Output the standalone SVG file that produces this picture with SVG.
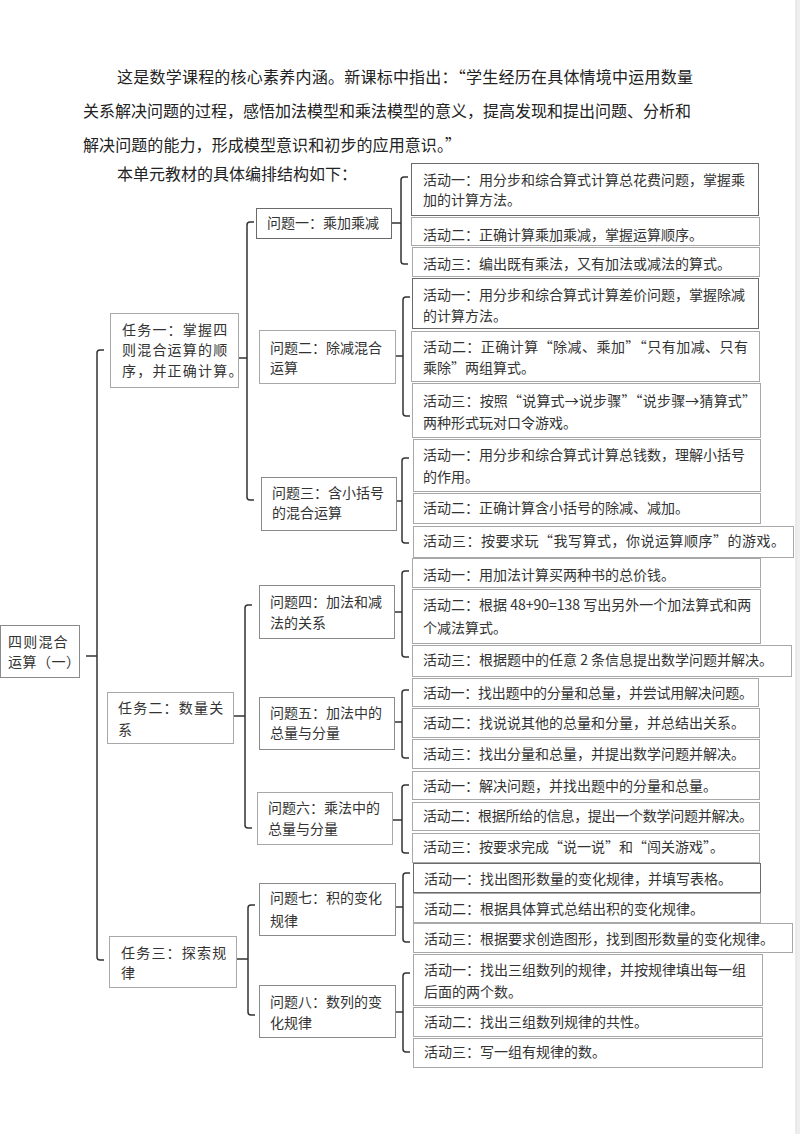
<svg xmlns="http://www.w3.org/2000/svg" width="800" height="1134" viewBox="0 0 800 1134">
<style>
.bx{fill:none;stroke:#a8a8a8;stroke-width:1}
.bd{fill:none;stroke:#6a6a6a;stroke-width:1}
.bq{fill:none;stroke:#8a8a8a;stroke-width:1}
.t{font-family:"Noto Sans CJK SC","Liberation Serif",sans-serif;font-size:14px;fill:#333}
.p{font-size:16px;fill:#222}
.ls{letter-spacing:1.2px}
.br{fill:none;stroke:#333;stroke-width:1.5}
</style>
<rect width="800" height="1134" fill="#fff"/>
<line x1="796" y1="0" x2="796" y2="1134" stroke="#d4d4d4"/>
<rect x="797" y="0" width="3" height="1134" fill="#eeeeee"/>

<g id="intro">
<text class="t p" x="117" y="83" textLength="576">这是数学课程的核心素养内涵。新课标中指出：“学生经历在具体情境中运用数量</text>
<text class="t p" x="83" y="117" textLength="608">关系解决问题的过程，感悟加法模型和乘法模型的意义，提高发现和提出问题、分析和</text>
<text class="t p" x="83" y="151" textLength="378">解决问题的能力，形成模型意识和初步的应用意识。”</text>
<text class="t p" x="117" y="180">本单元教材的具体编排结构如下：</text>
</g>

<g id="connectors">
<path class="br" d="M104 350H100Q97 350 97 353V957Q97 960 100 960H104M86 656H97"/>
<path class="br" d="M254 222H250Q247 222 247 225V497Q247 500 250 500H254M238 358H247"/>
<path class="br" d="M252 605H248Q245 605 245 608V825Q245 828 248 828H252M233 716H245"/>
<path class="br" d="M255 905H251Q248 905 248 908V1012Q248 1015 251 1015H255M236 959H248"/>
<path class="br" d="M408 177H404Q401 177 401 180V261Q401 264 404 264H408M391 223H401"/>
<path class="br" d="M410 297H406Q403 297 403 300V413Q403 416 406 416H410M395 356H403"/>
<path class="br" d="M409 458H405Q402 458 402 461V540Q402 543 405 543H409M396 501H402"/>
<path class="br" d="M409 571H405Q402 571 402 574V654Q402 657 405 657H409M394 612H402"/>
<path class="br" d="M409 690H405Q402 690 402 693V755Q402 758 405 758H409M394 722H402"/>
<path class="br" d="M409 785H405Q402 785 402 788V850Q402 853 405 853H409M392 820H402"/>
<path class="br" d="M410 873H406Q403 873 403 876V939Q403 942 406 942H410M395 907H403"/>
<path class="br" d="M410 973H406Q403 973 403 976V1049Q403 1052 406 1052H410M395 1012H403"/>
</g>

<g id="root">
<rect class="bq" x="0.5" y="625.5" width="79" height="52"/>
<text class="t ls" x="8" y="647">四则混合</text>
<text class="t" x="8" y="667" letter-spacing="0.5">运算（一）</text>
</g>

<g id="task1">
<rect class="bx" x="110.5" y="313.5" width="128" height="74"/>
<text class="t ls" x="122" y="335">任务一：掌握四</text>
<text class="t ls" x="122" y="355">则混合运算的顺</text>
<text class="t ls" x="122" y="376">序，并正确计算。</text>
</g>
<g id="task2">
<rect class="bx" x="107.5" y="692.5" width="126" height="51"/>
<text class="t ls" x="118" y="713">任务二：数量关</text>
<text class="t ls" x="118" y="735">系</text>
</g>
<g id="task3">
<rect class="bx" x="109.5" y="936.5" width="127" height="51"/>
<text class="t ls" x="121" y="958">任务三：探索规</text>
<text class="t ls" x="121" y="978">律</text>
</g>

<g id="q1">
<rect class="bd" x="256.5" y="208.5" width="135" height="30"/>
<text class="t" x="267" y="228">问题一：乘加乘减</text>
</g>
<g id="q2">
<rect class="bx" x="259.5" y="330.5" width="136" height="53"/>
<text class="t" x="270" y="353">问题二：除减混合</text>
<text class="t" x="270" y="373">运算</text>
</g>
<g id="q3">
<rect class="bq" x="261.5" y="477.5" width="135" height="53"/>
<text class="t" x="272" y="498">问题三：含小括号</text>
<text class="t" x="272" y="518">的混合运算</text>
</g>
<g id="q4">
<rect class="bq" x="259.5" y="585.5" width="135" height="53"/>
<text class="t" x="270" y="607">问题四：加法和减</text>
<text class="t" x="270" y="628">法的关系</text>
</g>
<g id="q5">
<rect class="bq" x="259.5" y="697.5" width="135" height="52"/>
<text class="t" x="270" y="718">问题五：加法中的</text>
<text class="t" x="270" y="738">总量与分量</text>
</g>
<g id="q6">
<rect class="bx" x="257.5" y="792.5" width="135" height="52"/>
<text class="t" x="268" y="813">问题六：乘法中的</text>
<text class="t" x="268" y="834">总量与分量</text>
</g>
<g id="q7">
<rect class="bq" x="259.5" y="883.5" width="136" height="52"/>
<text class="t" x="270" y="903">问题七：积的变化</text>
<text class="t" x="270" y="926">规律</text>
</g>
<g id="q8">
<rect class="bq" x="259.5" y="985.5" width="136" height="52"/>
<text class="t" x="270" y="1007">问题八：数列的变</text>
<text class="t" x="270" y="1028">化规律</text>
</g>

<g id="q1a1"><rect class="bd" x="411.5" y="163.5" width="347" height="52"/>
<text class="t" x="423" y="185">活动一：用分步和综合算式计算总花费问题，掌握乘</text>
<text class="t" x="423" y="205">加的计算方法。</text></g>
<g id="q1a2"><rect class="bx" x="411.5" y="217.5" width="348" height="28"/>
<text class="t" x="423" y="240">活动二：正确计算乘加乘减，掌握运算顺序。</text></g>
<g id="q1a3"><rect class="bx" x="412.5" y="247.5" width="347" height="29"/>
<text class="t" x="423" y="269">活动三：编出既有乘法，又有加法或减法的算式。</text></g>

<g id="q2a1"><rect class="bd" x="412.5" y="278.5" width="346" height="50"/>
<text class="t" x="423" y="300">活动一：用分步和综合算式计算差价问题，掌握除减</text>
<text class="t" x="423" y="321">的计算方法。</text></g>
<g id="q2a2"><rect class="bx" x="411.5" y="331.5" width="348" height="50"/>
<text class="t" x="423" y="352" textLength="325">活动二：正确计算“除减、乘加”“只有加减、只有</text>
<text class="t" x="423" y="373">乘除”两组算式。</text></g>
<g id="q2a3"><rect class="bx" x="412.5" y="383.5" width="348" height="54"/>
<text class="t" x="423" y="406" textLength="333">活动三：按照“说算式→说步骤”“说步骤→猜算式”</text>
<text class="t" x="423" y="428">两种形式玩对口令游戏。</text></g>

<g id="q3a1"><rect class="bx" x="413.5" y="439.5" width="347" height="52"/>
<text class="t" x="423" y="460">活动一：用分步和综合算式计算总钱数，理解小括号</text>
<text class="t" x="423" y="482">的作用。</text></g>
<g id="q3a2"><rect class="bx" x="413.5" y="493.5" width="347" height="30"/>
<text class="t" x="423" y="513">活动二：正确计算含小括号的除减、减加。</text></g>
<g id="q3a3"><rect class="bx" x="413.5" y="526.5" width="380" height="31"/>
<text class="t" x="423" y="546" textLength="362">活动三：按要求玩“我写算式，你说运算顺序”的游戏。</text></g>

<g id="q4a1"><rect class="bx" x="412.5" y="558.5" width="348" height="29"/>
<text class="t" x="423" y="580">活动一：用加法计算买两种书的总价钱。</text></g>
<g id="q4a2"><rect class="bx" x="412.5" y="589.5" width="348" height="54"/>
<text class="t" x="423" y="610">活动二：根据 48+90=138 写出另外一个加法算式和两</text>
<text class="t" x="423" y="633">个减法算式。</text></g>
<g id="q4a3"><rect class="bx" x="412.5" y="645.5" width="379" height="31"/>
<text class="t" x="423" y="665">活动三：根据题中的任意 2 条信息提出数学问题并解决。</text></g>

<g id="q5a1"><rect class="bx" x="412.5" y="678.5" width="346" height="28"/>
<text class="t" x="423" y="698" textLength="330">活动一：找出题中的分量和总量，并尝试用解决问题。</text></g>
<g id="q5a2"><rect class="bx" x="412.5" y="708.5" width="347" height="29"/>
<text class="t" x="423" y="728">活动二：找说说其他的总量和分量，并总结出关系。</text></g>
<g id="q5a3"><rect class="bx" x="412.5" y="739.5" width="347" height="29"/>
<text class="t" x="423" y="759">活动三：找出分量和总量，并提出数学问题并解决。</text></g>

<g id="q6a1"><rect class="bx" x="412.5" y="771.5" width="347" height="28"/>
<text class="t" x="423" y="791">活动一：解决问题，并找出题中的分量和总量。</text></g>
<g id="q6a2"><rect class="bx" x="412.5" y="802.5" width="347" height="28"/>
<text class="t" x="423" y="821" textLength="330">活动二：根据所给的信息，提出一个数学问题并解决。</text></g>
<g id="q6a3"><rect class="bx" x="412.5" y="833.5" width="347" height="29"/>
<text class="t" x="423" y="852">活动三：按要求完成“说一说”和“闯关游戏”。</text></g>

<g id="q7a1"><rect class="bd" x="413.5" y="863.5" width="347" height="29"/>
<text class="t" x="424" y="884">活动一：找出图形数量的变化规律，并填写表格。</text></g>
<g id="q7a2"><rect class="bx" x="413.5" y="893.5" width="347" height="29"/>
<text class="t" x="424" y="914">活动二：根据具体算式总结出积的变化规律。</text></g>
<g id="q7a3"><rect class="bx" x="413.5" y="923.5" width="379" height="29"/>
<text class="t" x="424" y="944">活动三：根据要求创造图形，找到图形数量的变化规律。</text></g>

<g id="q8a1"><rect class="bx" x="413.5" y="954.5" width="349" height="51"/>
<text class="t" x="424" y="975">活动一：找出三组数列的规律，并按规律填出每一组</text>
<text class="t" x="424" y="997">后面的两个数。</text></g>
<g id="q8a2"><rect class="bx" x="413.5" y="1007.5" width="349" height="29"/>
<text class="t" x="424" y="1027">活动二：找出三组数列规律的共性。</text></g>
<g id="q8a3"><rect class="bx" x="413.5" y="1038.5" width="349" height="29"/>
<text class="t" x="424" y="1057">活动三：写一组有规律的数。</text></g>
</svg>
